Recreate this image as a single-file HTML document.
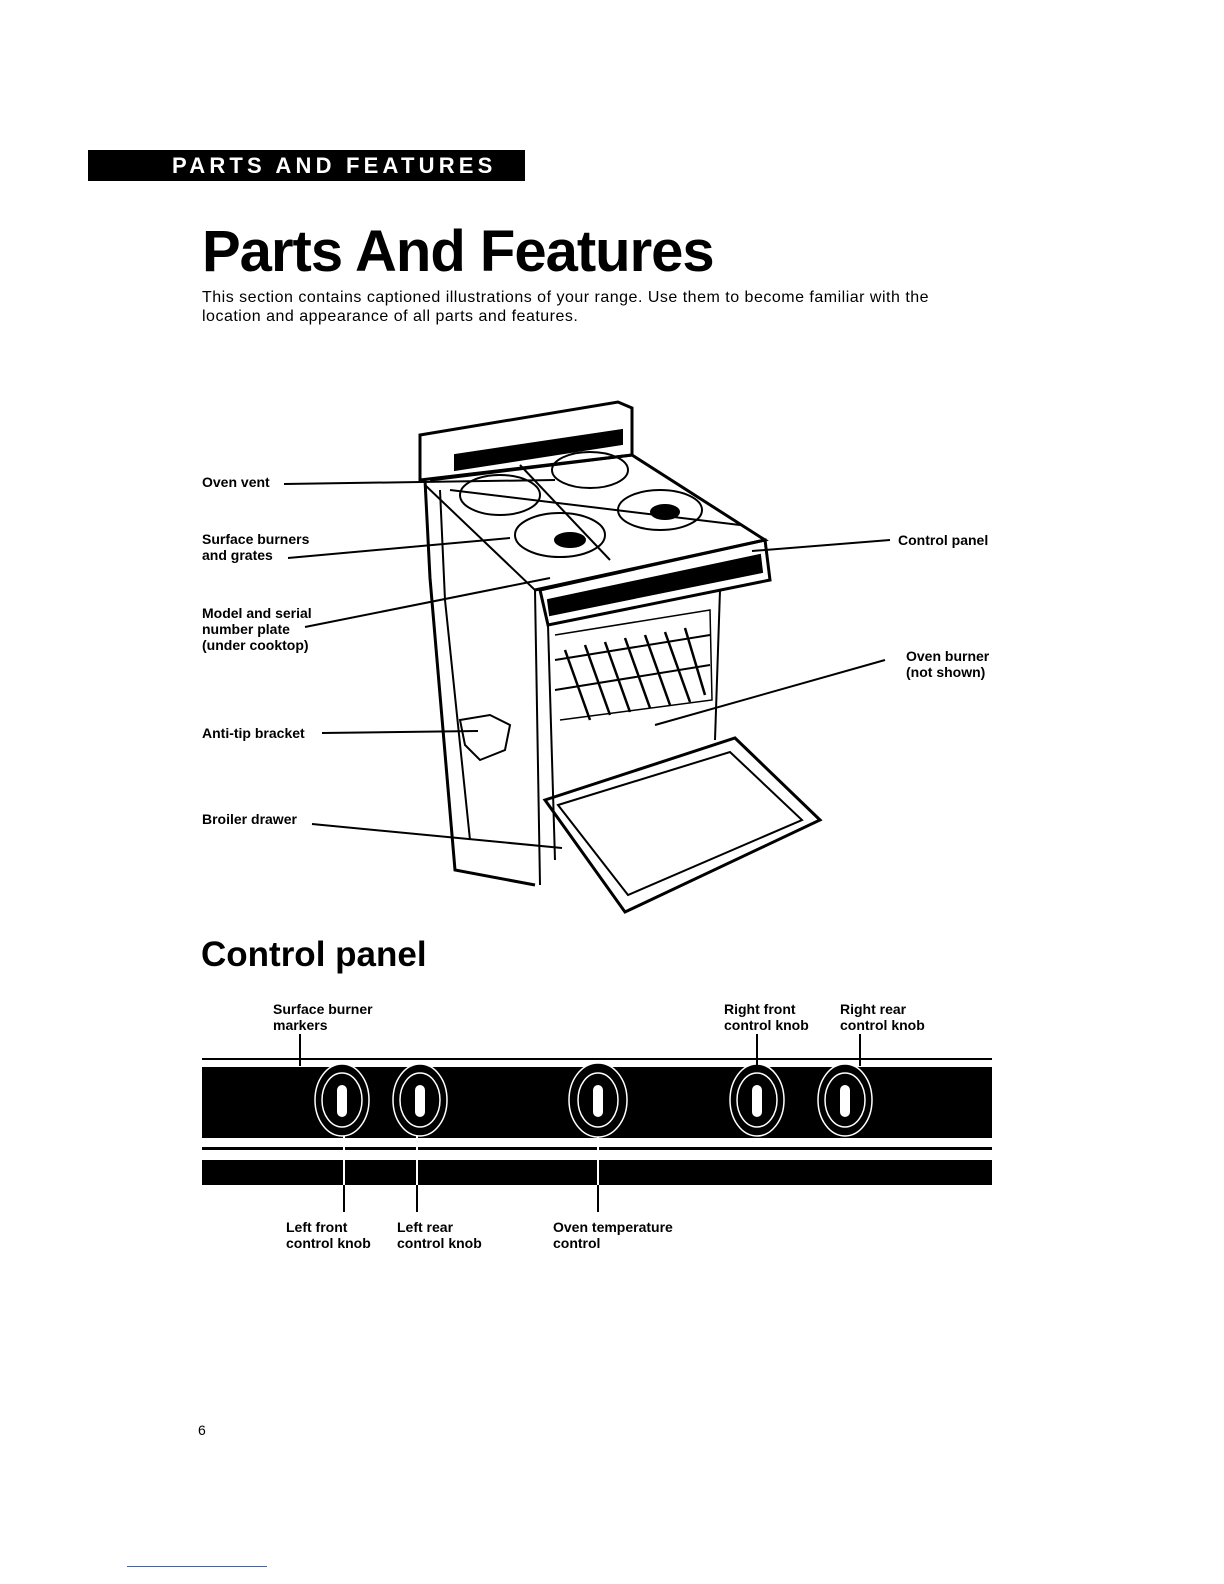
<!DOCTYPE html>
<html><head><meta charset="utf-8"><style>
body{margin:0;background:#fff;}
#p{position:relative;width:1224px;height:1584px;overflow:hidden;font-family:"Liberation Sans",Arial,sans-serif;color:#000;}
.t{position:absolute;white-space:nowrap;}
.lb{font-size:14px;font-weight:bold;line-height:16px;}
</style></head><body><div id="p">
<div style="position:absolute;left:88px;top:150px;width:437px;height:31px;background:#000;"></div>
<div class="t" style="left:172px;top:153px;color:#fff;font-size:22px;font-weight:bold;letter-spacing:4.2px;">PARTS AND FEATURES</div>
<div class="t" style="left:202px;top:218px;font-size:58px;font-weight:bold;letter-spacing:-1px;">Parts And Features</div>
<div class="t" style="left:202px;top:288px;font-size:16px;letter-spacing:0.5px;line-height:19px;">This section contains captioned illustrations of your range. Use them to become familiar with the<br>location and appearance of all parts and features.</div>

<div class="t lb" style="left:202px;top:474px;">Oven vent</div>
<div class="t lb" style="left:202px;top:531px;">Surface burners<br>and grates</div>
<div class="t lb" style="left:202px;top:605px;">Model and serial<br>number plate<br>(under cooktop)</div>
<div class="t lb" style="left:202px;top:725px;">Anti-tip bracket</div>
<div class="t lb" style="left:202px;top:811px;">Broiler drawer</div>
<div class="t lb" style="left:898px;top:532px;">Control panel</div>
<div class="t lb" style="left:906px;top:648px;">Oven burner<br>(not shown)</div>

<svg style="position:absolute;left:0;top:0" width="1224" height="1584">
<g stroke="#000" fill="none" stroke-width="2">
<line x1="284" y1="484" x2="555" y2="480"/>
<line x1="288" y1="558" x2="510" y2="538"/>
<line x1="305" y1="627" x2="550" y2="578"/>
<line x1="322" y1="733" x2="478" y2="731"/>
<line x1="312" y1="824" x2="562" y2="848"/>
<line x1="752" y1="551" x2="890" y2="540"/>
<line x1="655" y1="725" x2="885" y2="660"/>
<polygon points="420,435 618,402 632,408 632,455 420,480" stroke-width="3"/>
<polygon points="455,455 622,430 622,444 455,470" fill="#000"/>
<polyline points="425,480 430,578 455,870 535,885" stroke-width="3"/>
<polyline points="440,490 445,600 470,840"/>
<polyline points="425,485 535,590 540,885"/>
<polyline points="430,480 632,455 765,540 535,590" stroke-width="3"/>
<polygon points="540,590 765,540 770,580 548,625" stroke-width="3"/>
<polygon points="548,600 760,555 762,572 550,615" fill="#000"/>
<polyline points="548,625 555,860"/>
<polyline points="720,590 715,740"/>
<polyline points="555,635 710,610 712,700 560,720" stroke-width="1.5"/>
<g stroke-width="2.5">
<line x1="565" y1="650" x2="590" y2="720"/><line x1="585" y1="645" x2="610" y2="715"/>
<line x1="605" y1="642" x2="630" y2="712"/><line x1="625" y1="638" x2="650" y2="708"/>
<line x1="645" y1="635" x2="670" y2="705"/><line x1="665" y1="632" x2="690" y2="702"/>
<line x1="685" y1="628" x2="705" y2="695"/>
</g>
<line x1="555" y1="660" x2="710" y2="635"/><line x1="555" y1="690" x2="710" y2="665"/>
<polygon points="545,800 735,738 820,820 625,912" stroke-width="3"/>
<polygon points="558,805 730,752 802,820 628,895"/>
<polygon points="460,720 490,715 510,725 505,750 480,760 465,745"/>
<ellipse cx="500" cy="495" rx="40" ry="20"/><ellipse cx="590" cy="470" rx="38" ry="18"/>
<ellipse cx="560" cy="535" rx="45" ry="22"/><ellipse cx="660" cy="510" rx="42" ry="20"/>
<ellipse cx="570" cy="540" rx="15" ry="7" fill="#000"/><ellipse cx="665" cy="512" rx="14" ry="7" fill="#000"/>
<line x1="450" y1="490" x2="740" y2="525"/><line x1="520" y1="465" x2="610" y2="560"/>
</g>
<rect x="202" y="1058" width="790" height="2" fill="#000"/>
<rect x="202" y="1067" width="790" height="71" fill="#000"/>
<rect x="202" y="1147" width="790" height="3" fill="#000"/>
<rect x="202" y="1160" width="790" height="25" fill="#000"/>
<g fill="#000" stroke="#fff" stroke-width="1.5">
<ellipse cx="342" cy="1100" rx="27" ry="36"/><ellipse cx="342" cy="1100" rx="20" ry="27"/>
<ellipse cx="420" cy="1100" rx="27" ry="36"/><ellipse cx="420" cy="1100" rx="20" ry="27"/>
<ellipse cx="598" cy="1100" rx="29" ry="37"/><ellipse cx="598" cy="1100" rx="20" ry="27"/>
<ellipse cx="757" cy="1100" rx="27" ry="36"/><ellipse cx="757" cy="1100" rx="20" ry="27"/>
<ellipse cx="845" cy="1100" rx="27" ry="36"/><ellipse cx="845" cy="1100" rx="20" ry="27"/>
</g>
<g fill="#fff">
<rect x="337" y="1085" width="10" height="32" rx="5"/><rect x="415" y="1085" width="10" height="32" rx="5"/>
<rect x="593" y="1085" width="10" height="32" rx="5"/><rect x="752" y="1085" width="10" height="32" rx="5"/>
<rect x="840" y="1085" width="10" height="32" rx="5"/>
</g>
<g stroke="#000" stroke-width="2">
<line x1="300" y1="1034" x2="300" y2="1066"/><line x1="757" y1="1034" x2="757" y2="1066"/>
<line x1="860" y1="1034" x2="860" y2="1066"/>
<line x1="344" y1="1185" x2="344" y2="1212"/><line x1="417" y1="1185" x2="417" y2="1212"/>
<line x1="598" y1="1185" x2="598" y2="1212"/>
</g>
<g stroke="#fff" stroke-width="2">
<line x1="344" y1="1136" x2="344" y2="1185"/><line x1="417" y1="1136" x2="417" y2="1185"/>
<line x1="598" y1="1137" x2="598" y2="1185"/>
</g>
</svg>

<div class="t" style="left:201px;top:935px;font-size:35px;font-weight:bold;">Control panel</div>
<div class="t lb" style="left:273px;top:1001px;">Surface burner<br>markers</div>
<div class="t lb" style="left:724px;top:1001px;">Right front<br>control knob</div>
<div class="t lb" style="left:840px;top:1001px;">Right rear<br>control knob</div>
<div class="t lb" style="left:286px;top:1219px;">Left front<br>control knob</div>
<div class="t lb" style="left:397px;top:1219px;">Left rear<br>control knob</div>
<div class="t lb" style="left:553px;top:1219px;">Oven temperature<br>control</div>
<div class="t" style="left:198px;top:1422px;font-size:14px;">6</div>
<div style="position:absolute;left:127px;top:1566px;width:140px;height:1px;background:#3366cc;"></div>
</div></body></html>
